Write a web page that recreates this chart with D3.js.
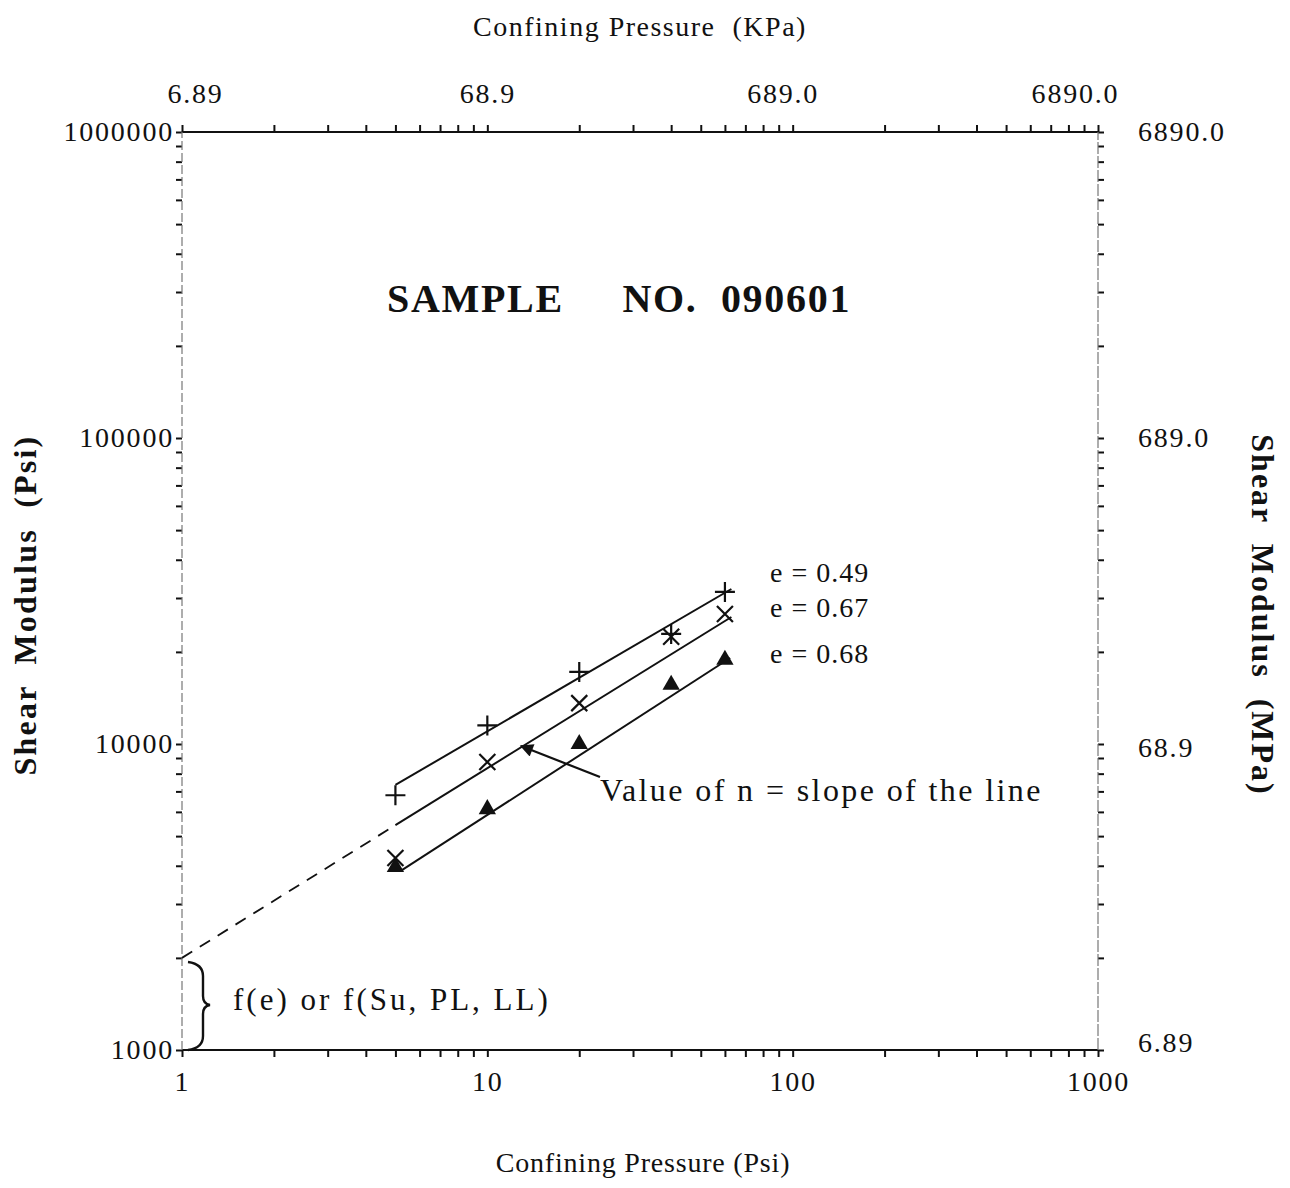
<!DOCTYPE html>
<html>
<head>
<meta charset="utf-8">
<script src="https://cdn.jsdelivr.net/npm/d3@7/dist/d3.min.js"></script>
<style>
  html, body { margin: 0; padding: 0; background: #fff; }
  svg text { font-family: "Liberation Serif", "Times New Roman", serif; fill: #111; }
</style>
</head>
<body>
<svg id="chart" width="1290" height="1188"></svg>
<script>
// Confining pressure (psi) at which each sample was tested
const pressurePsi = [5, 10, 20, 40, 60];

// Measured shear modulus (psi) per void ratio
const seriesNames = ["e = 0.49", "e = 0.67", "e = 0.68"];
const modulusE049 = [6800, 11500, 17200, 22900, 31400];
const modulusE067 = [4240, 8730, 13600, 22400, 26600];
const modulusE068 = [3930, 6080, 9930, 15500, 18700];

// Fitted straight lines (log-log), end points [psi, psi]
const fitE049 = [[5, 7350], [63, 32100]];
const fitE067 = [[5, 5430], [63, 26000]];
const fitE068 = [[5.25, 3870], [62.4, 19100]];
// Extension of the e = 0.67 line back to 1 psi (intercept)
const fitExtension = [[1, 2000], [5, 5430]];

// Axis tick labels
const xTicksPsi = [1, 10, 100, 1000];
const xTickLabelsKPa = ["6.89", "68.9", "689.0", "6890.0"];
const yTicksPsi = [1000, 10000, 100000, 1000000];
const yTickLabelsMPa = ["6.89", "68.9", "689.0", "6890.0"];

const svg = d3.select("#chart");
const x = d3.scaleLog().domain([1, 1000]).range([182, 1098]);
const y = d3.scaleLog().domain([1000, 1000000]).range([1050, 132]);

// all log ticks (1..9 per decade)
const minorX = [];
for (let d = 1; d <= 100; d *= 10) for (let k = 1; k <= 9; k++) minorX.push(k * d);
minorX.push(1000);
const minorY = [];
for (let d = 1000; d <= 100000; d *= 10) for (let k = 1; k <= 9; k++) minorY.push(k * d);
minorY.push(1000000);

function styleAxis(g) {
  g.select(".domain").remove();
  g.selectAll(".tick line").attr("stroke", "#111").attr("stroke-width", 2);
  g.selectAll(".tick text")
    .style("font-size", "28px")
    .style("letter-spacing", "1.8px")
    .attr("fill", "#111");
}

// Bottom axis (psi)
svg.append("g").attr("transform", "translate(0,1050)")
  .call(d3.axisBottom(x).tickValues(minorX).tickSize(7).tickPadding(14)
    .tickFormat(d => xTicksPsi.includes(d) ? String(d) : ""))
  .call(styleAxis);

// Top axis (kPa)
const topShift = [13, 0, -10, -23];
svg.append("g").attr("transform", "translate(0,132)")
  .call(d3.axisTop(x).tickValues(minorX).tickSize(7).tickPadding(22)
    .tickFormat(d => {
      const i = xTicksPsi.indexOf(d);
      return i >= 0 ? xTickLabelsKPa[i] : "";
    }))
  .call(styleAxis)
  .call(g => g.selectAll(".tick text").attr("dx", d => {
    const i = xTicksPsi.indexOf(d);
    return i >= 0 ? topShift[i] : 0;
  }));

// Left axis (psi)
svg.append("g").attr("transform", "translate(182,0)")
  .call(d3.axisLeft(y).tickValues(minorY).tickSize(6).tickPadding(2)
    .tickFormat(d => yTicksPsi.includes(d) ? String(d) : ""))
  .call(styleAxis);

// Right axis (MPa)
const rightShift = [-7, 4, 0, 0];
svg.append("g").attr("transform", "translate(1098,0)")
  .call(d3.axisRight(y).tickValues(minorY).tickSize(6).tickPadding(34)
    .tickFormat(d => {
      const i = yTicksPsi.indexOf(d);
      return i >= 0 ? yTickLabelsMPa[i] : "";
    }))
  .call(styleAxis)
  .call(g => g.selectAll(".tick text").attr("dy", d => {
    const i = yTicksPsi.indexOf(d);
    return (i >= 0 ? rightShift[i] : 0) + 8;
  }));

// Frame
const [x0, x1] = x.range();
const [y0, y1] = y.range();
svg.append("line").attr("x1", x0).attr("x2", x1).attr("y1", y1).attr("y2", y1)
  .attr("stroke", "#111").attr("stroke-width", 2);
svg.append("line").attr("x1", x0).attr("x2", x1).attr("y1", y0).attr("y2", y0)
  .attr("stroke", "#111").attr("stroke-width", 2);
svg.append("line").attr("x1", x0).attr("x2", x0).attr("y1", y0).attr("y2", y1)
  .attr("stroke", "#777").attr("stroke-width", 1.2).attr("stroke-dasharray", "9,3");
svg.append("line").attr("x1", x1).attr("x2", x1).attr("y1", y0).attr("y2", y1)
  .attr("stroke", "#777").attr("stroke-width", 1.2).attr("stroke-dasharray", "12,2");

// Fitted lines
const line = d3.line().x(d => x(d[0])).y(d => y(d[1]));
[fitE049, fitE067, fitE068].forEach(f => {
  svg.append("path").attr("d", line(f)).attr("fill", "none")
    .attr("stroke", "#111").attr("stroke-width", 2);
});
svg.append("path").attr("d", line(fitExtension)).attr("fill", "none")
  .attr("stroke", "#111").attr("stroke-width", 1.8).attr("stroke-dasharray", "12,9");

// Markers
function drawPlus(g, px, py) {
  g.append("path").attr("d", `M${px - 10},${py}H${px + 10}M${px},${py - 10}V${py + 10}`)
    .attr("stroke", "#111").attr("stroke-width", 2.2).attr("fill", "none");
}
function drawX(g, px, py) {
  const s = 8;
  g.append("path").attr("d", `M${px - s},${py - s}L${px + s},${py + s}M${px - s},${py + s}L${px + s},${py - s}`)
    .attr("stroke", "#111").attr("stroke-width", 2.2).attr("fill", "none");
}
const triSym = d3.symbol().type(d3.symbolTriangle).size(130);

const gm = svg.append("g");
pressurePsi.forEach((p, i) => drawPlus(gm, x(p), y(modulusE049[i])));
pressurePsi.forEach((p, i) => drawX(gm, x(p), y(modulusE067[i])));
pressurePsi.forEach((p, i) => {
  gm.append("path").attr("d", triSym())
    .attr("transform", `translate(${x(p)},${y(modulusE068[i]) - 1})`)
    .attr("fill", "#111");
});

// Series labels
const labelY = [582, 617, 663];
seriesNames.forEach((s, i) => {
  svg.append("text").attr("x", 770).attr("y", labelY[i])
    .style("font-size", "28px").style("letter-spacing", "1px").text(s);
});

// Title
svg.append("text").attr("x", 387).attr("y", 312)
  .style("font-size", "40px").style("font-weight", "bold").style("letter-spacing", "1.7px")
  .attr("xml:space", "preserve")
  .text("SAMPLE     NO.  090601");

// Slope annotation with arrow
svg.append("defs").append("marker")
  .attr("id", "arrow").attr("viewBox", "0 0 10 10").attr("refX", 9).attr("refY", 5)
  .attr("markerWidth", 7).attr("markerHeight", 6).attr("orient", "auto")
  .append("path").attr("d", "M0,0L10,5L0,10z").attr("fill", "#111");
svg.append("line").attr("x1", 600).attr("y1", 777).attr("x2", 521).attr("y2", 746)
  .attr("stroke", "#111").attr("stroke-width", 2.2).attr("marker-end", "url(#arrow)");
svg.append("text").attr("x", 600).attr("y", 801)
  .style("font-size", "32px").style("letter-spacing", "2.4px")
  .attr("xml:space", "preserve")
  .text("Value of n = slope of the line");

// Intercept brace and label
svg.append("path")
  .attr("d", "M188,962 Q203,964 203,976 L203,996 Q203,1004 210,1005 Q203,1006 203,1014 L203,1036 Q203,1048 188,1050")
  .attr("fill", "none").attr("stroke", "#111").attr("stroke-width", 2.4);
svg.append("text").attr("x", 233).attr("y", 1010)
  .style("font-size", "31px").style("letter-spacing", "3px")
  .attr("xml:space", "preserve")
  .text("f(e) or f(Su, PL, LL)");

// Axis titles
svg.append("text").attr("x", 640).attr("y", 36).attr("text-anchor", "middle")
  .style("font-size", "28px").style("letter-spacing", "1.5px")
  .attr("xml:space", "preserve")
  .text("Confining Pressure  (KPa)");
svg.append("text").attr("x", 643).attr("y", 1172).attr("text-anchor", "middle")
  .style("font-size", "28px").style("letter-spacing", "0.8px")
  .attr("xml:space", "preserve")
  .text("Confining Pressure (Psi)");
svg.append("text").attr("transform", "translate(36,605) rotate(-90)").attr("text-anchor", "middle")
  .style("font-size", "32px").style("font-weight", "bold").style("letter-spacing", "2.2px")
  .attr("xml:space", "preserve")
  .text("Shear  Modulus  (Psi)");
svg.append("text").attr("transform", "translate(1252,615) rotate(90)").attr("text-anchor", "middle")
  .style("font-size", "32px").style("font-weight", "bold").style("letter-spacing", "2px")
  .attr("xml:space", "preserve")
  .text("Shear  Modulus  (MPa)");
</script>
</body>
</html>
